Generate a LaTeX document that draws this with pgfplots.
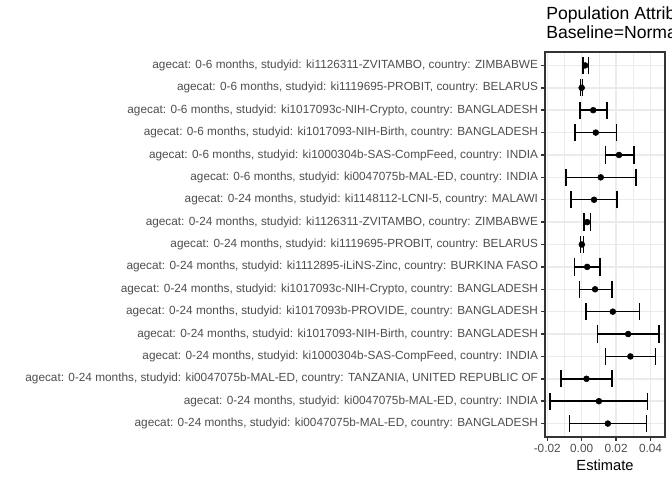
\documentclass[border=0pt]{standalone}
\usepackage{fontspec}
\setmainfont{Liberation Sans}
\usepackage{pgfplots}
\pgfplotsset{compat=1.18}
\usepackage{pgfplotstable}
\definecolor{gray92}{HTML}{EBEBEB}
\definecolor{gray30}{HTML}{4D4D4D}
\definecolor{gray20}{HTML}{333333}

\pgfplotstableread{
row est lo hi
1 0.0020 0.0007 0.0039
2 0.0000 -0.0006 0.0006
3 0.0067 -0.0009 0.0146
4 0.0082 -0.0038 0.0202
5 0.0217 0.0138 0.0303
6 0.0111 -0.0092 0.0316
7 0.0072 -0.0061 0.0206
8 0.0032 0.0013 0.0051
9 0.0001 -0.0007 0.0009
10 0.0032 -0.0040 0.0106
11 0.0078 -0.0014 0.0175
12 0.0181 0.0026 0.0335
13 0.0270 0.0092 0.0449
14 0.0283 0.0138 0.0428
15 0.0028 -0.0119 0.0177
16 0.0100 -0.0183 0.0381
17 0.0152 -0.0071 0.0378
}\data

\begin{document}
\begin{tikzpicture}
\useasboundingbox (0pt,0pt) rectangle (504pt,360pt);
\begin{scope}
\clip (0pt,0pt) rectangle (504pt,360pt);
\node[anchor=base west, inner sep=0pt, font=\fontsize{13.2}{15}\selectfont] at (409.5pt,345pt) {Population Attributable Fraction};
\node[anchor=base west, inner sep=0pt, font=\fontsize{13.2}{15}\selectfont] at (409.5pt,331.5pt) {Baseline=Normal weight};
\begin{axis}[
  at={(408.75pt,32.25pt)}, anchor=south west,
  scale only axis, width=90pt, height=288.75pt,
  xmin=-0.0213, xmax=0.0484, ymin=0.4, ymax=17.6, y dir=reverse,
  axis line style={gray20, line width=1.07pt},
  xtick={-0.02,0,0.02,0.04}, xticklabels={-0.02,0.00,0.02,0.04},
  minor xtick={-0.01,0.01,0.03},
  scaled x ticks=false,
  ytick={1,...,17},
  yticklabels={
   {agecat: 0-6 months, studyid: ki1126311-ZVITAMBO, country: ZIMBABWE},
   {agecat: 0-6 months, studyid: ki1119695-PROBIT, country: BELARUS},
   {agecat: 0-6 months, studyid: ki1017093c-NIH-Crypto, country: BANGLADESH},
   {agecat: 0-6 months, studyid: ki1017093-NIH-Birth, country: BANGLADESH},
   {agecat: 0-6 months, studyid: ki1000304b-SAS-CompFeed, country: INDIA},
   {agecat: 0-6 months, studyid: ki0047075b-MAL-ED, country: INDIA},
   {agecat: 0-24 months, studyid: ki1148112-LCNI-5, country: MALAWI},
   {agecat: 0-24 months, studyid: ki1126311-ZVITAMBO, country: ZIMBABWE},
   {agecat: 0-24 months, studyid: ki1119695-PROBIT, country: BELARUS},
   {agecat: 0-24 months, studyid: ki1112895-iLiNS-Zinc, country: BURKINA FASO},
   {agecat: 0-24 months, studyid: ki1017093c-NIH-Crypto, country: BANGLADESH},
   {agecat: 0-24 months, studyid: ki1017093b-PROVIDE, country: BANGLADESH},
   {agecat: 0-24 months, studyid: ki1017093-NIH-Birth, country: BANGLADESH},
   {agecat: 0-24 months, studyid: ki1000304b-SAS-CompFeed, country: INDIA},
   {agecat: 0-24 months, studyid: ki0047075b-MAL-ED, country: TANZANIA, UNITED REPUBLIC OF},
   {agecat: 0-24 months, studyid: ki0047075b-MAL-ED, country: INDIA},
   {agecat: 0-24 months, studyid: ki0047075b-MAL-ED, country: BANGLADESH}},
  tick align=outside, tick pos=left,
  major tick length=2.75pt, minor tick length=0pt,
  every tick/.style={gray20, line width=1.07pt},
  xmajorgrids, xminorgrids, ymajorgrids,
  major grid style={gray92, line width=1.07pt},
  minor grid style={gray92, line width=0.53pt},
  ticklabel style={font=\fontsize{8.85}{10}\selectfont, text=gray30, inner sep=0pt},
  yticklabel style={xshift=-2.3pt},
  xticklabel style={yshift=-2.2pt},
  xlabel={Estimate},
  xlabel style={font=\fontsize{11}{13}\selectfont, text=black, inner sep=0pt, yshift=-5.5pt},
]
\addplot[black, only marks, mark=*, mark size=2.2pt,
  error bars/.cd, x dir=both, x explicit, error mark=|,
  error bar style={line width=1.07pt, black},
  error mark options={black, line width=1.07pt, mark size=6.5pt}]
  table[x=est, y=row,
        x error plus expr=\thisrow{hi}-\thisrow{est},
        x error minus expr=\thisrow{est}-\thisrow{lo}] {\data};
\end{axis}
\end{scope}
\end{tikzpicture}
\end{document}
